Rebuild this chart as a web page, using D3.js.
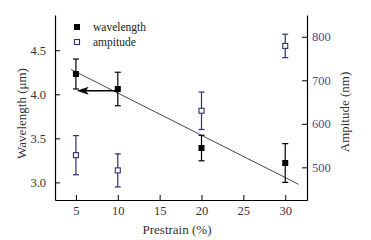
<!DOCTYPE html>
<html>
<head>
<meta charset="utf-8">
<script src="https://cdn.jsdelivr.net/npm/d3@7"></script>
<style>
  body { margin: 0; background: #fff; }
  svg text { font-family: "Times New Roman", "Liberation Serif", Times, serif; }
</style>
</head>
<body>
<script>
// wavelength / amplitude vs prestrain

const prestrain = [5, 10, 20, 30];
const wavelength = [4.23, 4.06, 3.39, 3.22];      // um
const wavelengthErr = [0.17, 0.19, 0.145, 0.22];
const amplitude = [528, 493, 630, 779];            // nm
const amplitudeErr = [45, 38, 43, 27];
const fitLine = [[4.4, 4.283], [31.6, 2.978]];     // linear fit endpoints (x, um)
const arrowFrom = [10, 4.04], arrowTo = [5.1, 4.04];

const xTicks = [5, 10, 15, 20, 25, 30];
const yLeftTicks = [3.0, 3.5, 4.0, 4.5];
const yRightTicks = [500, 600, 700, 800];

const width = 371, height = 240;
const margin = {top: 15, right: 64, bottom: 40, left: 55};
const blue = "#2e2e72";

const svg = d3.select("body").append("svg")
    .attr("width", width)
    .attr("height", height);

const x = d3.scaleLinear().domain([2.5, 32.6]).range([margin.left, width - margin.right]);
const yL = d3.scaleLinear().domain([2.8, 4.9]).range([height - margin.bottom, margin.top]);
const yR = d3.scaleLinear().domain([425, 850]).range([height - margin.bottom, margin.top]);

// minor tick values every step
function minor(scale, step) {
  const d = scale.domain();
  return d3.range(Math.ceil(d[0] / step) * step, d[1] + 1e-9, step);
}

const gx = svg.append("g").attr("transform", `translate(0,${height - margin.bottom})`);
gx.call(d3.axisBottom(x).tickValues(minor(x, 2.5)).tickSize(-3).tickSizeOuter(0).tickFormat(""));
gx.call(d3.axisBottom(x).tickValues(xTicks).tickSize(-5).tickSizeOuter(0).tickPadding(6).tickFormat(d3.format("d")));

const gl = svg.append("g").attr("transform", `translate(${margin.left},0)`);
gl.call(d3.axisLeft(yL).tickValues(minor(yL, 0.25)).tickSize(-3).tickSizeOuter(0).tickFormat(""));
gl.call(d3.axisLeft(yL).tickValues(yLeftTicks).tickSize(-5).tickSizeOuter(0).tickPadding(9).tickFormat(d3.format(".1f")));

const gr = svg.append("g").attr("transform", `translate(${width - margin.right},0)`);
gr.call(d3.axisRight(yR).tickValues(minor(yR, 50)).tickSize(-3).tickSizeOuter(0).tickFormat(""));
gr.call(d3.axisRight(yR).tickValues(yRightTicks).tickSize(-5).tickSizeOuter(0).tickPadding(5).tickFormat(d3.format("d")));

svg.selectAll(".domain").attr("stroke", "#000").attr("stroke-width", 1.2);
svg.selectAll(".tick line").attr("stroke", "#000");
gx.selectAll("text").attr("font-size", 12.5).attr("fill", "#333");
gl.selectAll("text").attr("font-size", 12.5).attr("fill", "#333");
gr.selectAll("text").attr("font-size", 12.5).attr("fill", "#4a4a90");

// titles
svg.append("text")
    .attr("x", 177)
    .attr("y", 234)
    .attr("text-anchor", "middle")
    .attr("font-size", 13)
    .attr("fill", "#333")
    .text("Prestrain (%)");

svg.append("text")
    .attr("transform", `translate(26,${(margin.top + height - margin.bottom) / 2 + 6}) rotate(-90)`)
    .attr("text-anchor", "middle")
    .attr("font-size", 13)
    .attr("fill", "#333")
    .text("Wavelength (μm)");

svg.append("text")
    .attr("transform", `translate(349,112) rotate(-90)`)
    .attr("text-anchor", "middle")
    .attr("font-size", 13)
    .attr("fill", "#333")
    .text("Ampitude (nm)");

// fit line
svg.append("line")
    .attr("x1", x(fitLine[0][0])).attr("y1", yL(fitLine[0][1]))
    .attr("x2", x(fitLine[1][0])).attr("y2", yL(fitLine[1][1]))
    .attr("stroke", "#333").attr("stroke-width", 0.9);

// arrow
svg.append("line")
    .attr("x1", x(arrowFrom[0])).attr("y1", yL(arrowFrom[1]))
    .attr("x2", x(arrowTo[0]) + 8).attr("y2", yL(arrowTo[1]))
    .attr("stroke", "#000").attr("stroke-width", 1.3);
svg.append("path")
    .attr("d", `M${x(arrowTo[0])},${yL(arrowTo[1])} l12,-4 l-3,4 l3,4 Z`)
    .attr("fill", "#000");

// error bars
function errorBars(vals, errs, scale, color) {
  const g = svg.append("g").attr("stroke", color).attr("stroke-width", 1.2);
  prestrain.forEach((p, i) => {
    const cx = x(p), top = scale(vals[i] + errs[i]), bot = scale(vals[i] - errs[i]);
    g.append("line").attr("x1", cx).attr("x2", cx).attr("y1", top).attr("y2", bot);
    g.append("line").attr("x1", cx - 3).attr("x2", cx + 3).attr("y1", top).attr("y2", top);
    g.append("line").attr("x1", cx - 3).attr("x2", cx + 3).attr("y1", bot).attr("y2", bot);
  });
}

errorBars(wavelength, wavelengthErr, yL, "#000");
errorBars(amplitude, amplitudeErr, yR, blue);

svg.append("g").selectAll("rect")
  .data(prestrain)
  .join("rect")
    .attr("x", (d) => x(d) - 3)
    .attr("y", (d, i) => yL(wavelength[i]) - 3)
    .attr("width", 6).attr("height", 6)
    .attr("fill", "#000");

svg.append("g").selectAll("rect")
  .data(prestrain)
  .join("rect")
    .attr("x", (d) => x(d) - 2.5)
    .attr("y", (d, i) => yR(amplitude[i]) - 2.5)
    .attr("width", 5).attr("height", 5)
    .attr("fill", "#fff")
    .attr("stroke", blue).attr("stroke-width", 1.1);

// legend
svg.append("rect").attr("x", 74).attr("y", 24).attr("width", 6).attr("height", 6).attr("fill", "#000");
svg.append("text").attr("x", 93).attr("y", 31).attr("font-size", 11.5).attr("fill", "#222").text("wavelength");
svg.append("rect").attr("x", 74.5).attr("y", 39.5).attr("width", 5).attr("height", 5)
    .attr("fill", "#fff").attr("stroke", blue).attr("stroke-width", 1.1);
svg.append("text").attr("x", 93).attr("y", 46).attr("font-size", 11.5).attr("fill", "#222").text("ampitude");
</script>
</body>
</html>
